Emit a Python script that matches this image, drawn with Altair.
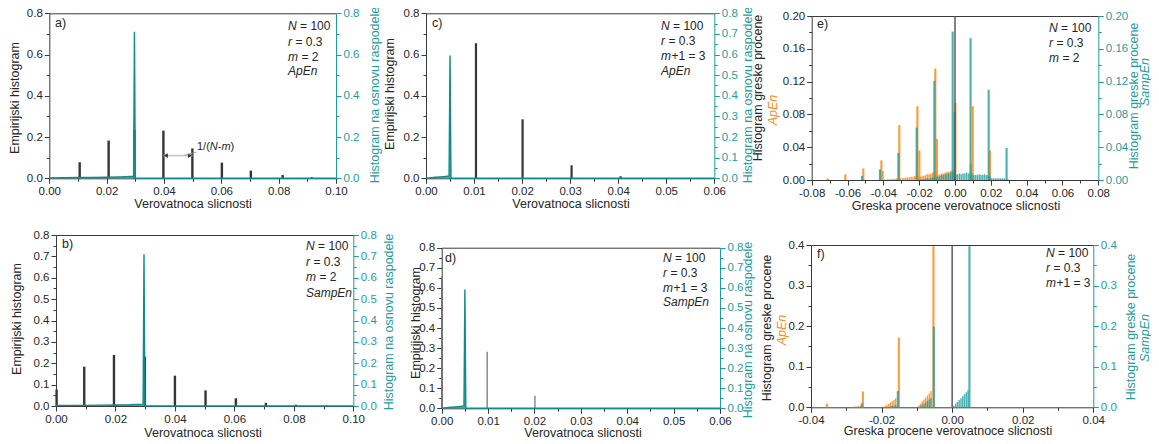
import altair as alt
import pandas as pd

W, H = 1143, 432
FONT = "Liberation Sans"
INK = "#262626"
AXIS = "#3a3a3a"
BAR = "#363636"
BAR_THIN = "#6e6e6e"
TEAL = "#1f9d9d"
TEAL_LINE = "#108b8b"
ORANGE = "#ff8b17"
ZERO = "#5a5a5a"
MINUS = "\u2212"

# ---------------- data ----------------
# a) ApEn, m = 2
a_bar_x = [0.0106, 0.0207, 0.0297, 0.0398, 0.0499, 0.0602, 0.0703, 0.0814, 0.0915]
a_bar_y = [0.078, 0.183, 0.234, 0.231, 0.145, 0.076, 0.037, 0.016, 0.005]
a_teal_x = [0.0, 0.005, 0.010, 0.015, 0.020, 0.025, 0.0294, 0.0297, 0.0300, 0.100]
a_teal_y = [0.002, 0.003, 0.004, 0.004, 0.005, 0.007, 0.010, 0.711, 0.0, 0.0]
# b) SampEn, m = 2
b_bar_x = [0.0002, 0.0095, 0.0195, 0.0299, 0.0400, 0.0503, 0.0605, 0.0706, 0.0807, 0.0910]
b_bar_y = [0.077, 0.184, 0.239, 0.231, 0.142, 0.073, 0.036, 0.015, 0.006, 0.002]
b_teal_x = [0.0, 0.005, 0.010, 0.015, 0.020, 0.025, 0.0293, 0.0296, 0.0299, 0.100]
b_teal_y = [0.002, 0.003, 0.003, 0.004, 0.005, 0.006, 0.009, 0.710, 0.0, 0.0]
# c) ApEn, m+1 = 3
c_bar_x = [0.0104, 0.0201, 0.0303, 0.0405]
c_bar_y = [0.655, 0.286, 0.063, 0.010]
c_teal_x = [0.0, 0.001, 0.002, 0.003, 0.004, 0.0048, 0.0050, 0.0052, 0.060]
c_teal_y = [0.001, 0.003, 0.005, 0.007, 0.009, 0.012, 0.595, 0.0, 0.0]
# d) SampEn, m+1 = 3
d_bar_x = [0.0, 0.0098, 0.0201, 0.0302]
d_bar_y = [0.651, 0.282, 0.062, 0.003]
d_teal_x = [0.0, 0.001, 0.002, 0.003, 0.004, 0.0048, 0.0050, 0.0052, 0.060]
d_teal_y = [0.001, 0.003, 0.005, 0.007, 0.009, 0.012, 0.592, 0.0, 0.0]

# e) estimation error histograms, m = 2
e_apen_spike_x = [-0.0711, -0.0612, -0.0512, -0.0411, -0.0404, -0.0311, -0.0210, -0.0199,
                  -0.0110, -0.0101, 0.0002, 0.0088, 0.0099, 0.0195]
e_apen_spike_y = [0.002, 0.007, 0.014, 0.024, 0.011, 0.067, 0.090, 0.036,
                  0.136, 0.050, 0.094, 0.020, 0.090, 0.036]
e_apen_ramp_x = [-0.0395, -0.0385, -0.0375, -0.0365, -0.0355, -0.0345, -0.0335, -0.0325, -0.0315, -0.0305,
                 -0.0295, -0.0285, -0.0275, -0.0265, -0.0255, -0.0245, -0.0235, -0.0225, -0.0215, -0.0205,
                 -0.0195, -0.0185, -0.0175, -0.0165, -0.0155, -0.0145, -0.0135, -0.0125, -0.0115, -0.0105,
                 -0.0095, -0.0085, -0.0075, -0.0065, -0.0055, -0.0045, -0.0035, -0.0025, -0.0015, -0.0005]
e_apen_ramp_y = [0.0005, 0.0005, 0.001, 0.001, 0.001, 0.0015, 0.0015, 0.002, 0.002, 0.002,
                 0.002, 0.0025, 0.003, 0.003, 0.0035, 0.004, 0.004, 0.005, 0.005, 0.006,
                 0.004, 0.005, 0.005, 0.006, 0.007, 0.007, 0.008, 0.009, 0.010, 0.011,
                 0.006, 0.007, 0.008, 0.008, 0.009, 0.010, 0.010, 0.011, 0.012, 0.012]
e_samp_spike_x = [-0.0519, -0.0419, -0.0316, -0.0214, -0.0115, -0.0013, -0.0002, 0.0087, 0.0188, 0.0288]
e_samp_spike_y = [0.005, 0.013, 0.033, 0.064, 0.121, 0.181, 0.083, 0.173, 0.110, 0.039]
e_samp_ramp_x = [-0.0195, -0.0185, -0.0175, -0.0165, -0.0155, -0.0145, -0.0135, -0.0125, -0.0115, -0.0105,
                 -0.0095, -0.0085, -0.0075, -0.0065, -0.0055, -0.0045, -0.0035, -0.0025, -0.0015, -0.0005,
                 0.0005, 0.0015, 0.0025, 0.0035, 0.0045, 0.0055, 0.0065, 0.0075, 0.0085, 0.0095,
                 0.0105, 0.0115, 0.0125, 0.0135, 0.0145, 0.0155, 0.0165, 0.0175, 0.0185, 0.0195,
                 0.0205, 0.0215, 0.0225, 0.0235, 0.0245, 0.0255, 0.0265, 0.0275, 0.0285, 0.0295]
e_samp_ramp_y = [0.001, 0.001, 0.001, 0.002, 0.002, 0.002, 0.003, 0.003, 0.003, 0.004,
                 0.004, 0.005, 0.006, 0.006, 0.007, 0.008, 0.008, 0.009, 0.010, 0.010,
                 0.007, 0.007, 0.008, 0.007, 0.008, 0.008, 0.009, 0.008, 0.009, 0.008,
                 0.006, 0.006, 0.006, 0.007, 0.006, 0.006, 0.007, 0.006, 0.006, 0.005,
                 0.002, 0.002, 0.002, 0.002, 0.002, 0.002, 0.002, 0.002, 0.001, 0.001]

# f) estimation error histograms, m+1 = 3
f_apen_spike_x = [-0.0355, -0.0253, -0.0151, -0.0053]
f_apen_spike_y = [0.009, 0.039, 0.172, 0.397]
f_apen_ramp_x = [-0.0285, -0.0280, -0.0275, -0.0270, -0.0265, -0.0260,
                 -0.0190, -0.0185, -0.0180, -0.0175, -0.0170, -0.0165, -0.0160,
                 -0.0095, -0.0090, -0.0085, -0.0080, -0.0075, -0.0070, -0.0065, -0.0060]
f_apen_ramp_y = [0.001, 0.001, 0.002, 0.002, 0.003, 0.004,
                 0.003, 0.006, 0.008, 0.012, 0.015, 0.018, 0.022,
                 0.004, 0.009, 0.014, 0.019, 0.024, 0.029, 0.034, 0.040]
f_samp_spike_x = [-0.0256, -0.0154, -0.0052, 0.0049]
f_samp_spike_y = [0.010, 0.040, 0.199, 0.397]
f_samp_ramp_x = [-0.0175, -0.0170, -0.0165, -0.0160,
                 -0.0090, -0.0085, -0.0080, -0.0075, -0.0070, -0.0065, -0.0060,
                 0.0005, 0.0010, 0.0015, 0.0020, 0.0025, 0.0030, 0.0035, 0.0040, 0.0045]
f_samp_ramp_y = [0.002, 0.003, 0.004, 0.006,
                 0.003, 0.006, 0.009, 0.012, 0.016, 0.019, 0.023,
                 0.004, 0.009, 0.013, 0.018, 0.022, 0.027, 0.032, 0.037, 0.042]
zero_x = [0.0]

# annotation arrow in a): 1/(N-m)
a_arrow_x = [0.0398]
a_arrow_x2 = [0.0499]
a_arrow_y = [0.11]
a_head_x = [0.0406, 0.0491]
a_head_y = [0.11, 0.11]
a_head_shape = ["triangle-left", "triangle-right"]
a_lead_x, a_lead_x2 = [0.0472], [0.0514]
a_lead_y, a_lead_y2 = [0.112], [0.127]

# ---------------- ticks ----------------
xt_010 = [0.0, 0.02, 0.04, 0.06, 0.08, 0.10]
xt_010_minor = [0.01, 0.03, 0.05, 0.07, 0.09]
xt_006 = [0.0, 0.01, 0.02, 0.03, 0.04, 0.05, 0.06]
xt_006_minor = [0.005, 0.015, 0.025, 0.035, 0.045, 0.055]
xt_e = [-0.08, -0.06, -0.04, -0.02, 0.0, 0.02, 0.04, 0.06, 0.08]
xt_e_minor = [-0.07, -0.05, -0.03, -0.01, 0.01, 0.03, 0.05, 0.07]
xt_f = [-0.04, -0.02, 0.0, 0.02, 0.04]
xt_f_minor = [-0.03, -0.01, 0.01, 0.03]
yt_02 = [0.0, 0.2, 0.4, 0.6, 0.8]
yt_02_minor = [0.1, 0.3, 0.5, 0.7]
yt_01 = [0.0, 0.1, 0.2, 0.3, 0.4, 0.5, 0.6, 0.7, 0.8]
yt_01_minor = [0.05, 0.15, 0.25, 0.35, 0.45, 0.55, 0.65, 0.75]
yt_e = [0.0, 0.04, 0.08, 0.12, 0.16, 0.20]
yt_e_minor = [0.02, 0.06, 0.10, 0.14, 0.18]
yt_f = [0.0, 0.1, 0.2, 0.3, 0.4]
yt_f_minor = [0.05, 0.15, 0.25, 0.35]

# ---------------- layout (chart pixels) ----------------
GEOM = {
    "a": dict(xr=[41.3, 328.0], yr=[170.3, 5.3]),
    "b": dict(xr=[48.0, 345.3], yr=[398.0, 227.0]),
    "c": dict(xr=[418.0, 706.3], yr=[170.3, 5.3]),
    "d": dict(xr=[433.7, 712.0], yr=[400.3, 239.7]),
    "e": dict(xr=[803.7, 1090.3], yr=[172.0, 8.0]),
    "f": dict(xr=[803.0, 1085.3], yr=[399.3, 237.0]),
}


def sx(p, dom):
    return alt.Scale(domain=dom, range=GEOM[p]["xr"], nice=False, zero=False)


def sy(p, dom):
    return alt.Scale(domain=dom, range=GEOM[p]["yr"], nice=False, zero=False)


def axis(orient, p, values=None, fmt=None, color=AXIS, label_color=INK,
         labels=True, ticks=True, domain=True, tick_size=5):
    g = GEOM[p]
    if orient == "bottom":
        off = g["yr"][0] - H
    elif orient == "top":
        off = -g["yr"][1]
    elif orient == "left":
        off = -g["xr"][0]
    else:
        off = g["xr"][1] - W
    kw = dict(orient=orient, offset=off, title=None, grid=False, labels=labels,
              ticks=ticks, domain=domain, tickSize=tick_size, tickColor=color,
              domainColor=color, tickWidth=1, domainWidth=1)
    if values is not None:
        kw["values"] = values
    if labels:
        kw.update(format=fmt, labelFont=FONT, labelFontSize=11.5, labelColor=label_color,
                  labelPadding=2, labelFlush=False, labelOverlap=False,
                  labelExpr="replace(datum.label, '" + MINUS + "', '-')")
    return alt.Axis(**kw)


def dist_panel(p, xdom, ydom, bx, by, tx, ty, xmaj, xmin, ylmaj, ylmin, yrmaj, yrmin,
               bar_color, bar_w):
    bars = pd.DataFrame({"x": bx, "y": by})
    teal = pd.DataFrame({"x": tx, "y": ty})
    l_bars = alt.Chart(bars).mark_rule(color=bar_color, strokeWidth=bar_w).encode(
        x=alt.X("x:Q", scale=sx(p, xdom), axis=axis("bottom", p, xmaj, ".2f")),
        y=alt.Y("y:Q", scale=sy(p, ydom), axis=axis("left", p, ylmaj, ".1f")),
        y2=alt.datum(0),
    )
    l_teal = alt.Chart(teal).mark_area(
        color=TEAL, opacity=0.85, line={"color": TEAL_LINE, "strokeWidth": 1.4}
    ).encode(
        x=alt.X("x:Q", scale=sx(p, xdom), axis=axis("top", p, labels=False, ticks=False)),
        y=alt.Y("y:Q", scale=sy(p, ydom),
                axis=axis("right", p, yrmaj, ".1f", color=TEAL, label_color=TEAL)),
        y2=alt.datum(0),
    )
    l_min1 = alt.Chart(bars).mark_point(opacity=0).encode(
        x=alt.X("x:Q", scale=sx(p, xdom),
                axis=axis("bottom", p, xmin, labels=False, domain=False, tick_size=3)),
        y=alt.Y("y:Q", scale=sy(p, ydom),
                axis=axis("left", p, ylmin, labels=False, domain=False, tick_size=3)),
    )
    l_min2 = alt.Chart(teal).mark_point(opacity=0).encode(
        x=alt.X("x:Q", scale=sx(p, xdom), axis=None),
        y=alt.Y("y:Q", scale=sy(p, ydom),
                axis=axis("right", p, yrmin, color=TEAL, labels=False, domain=False, tick_size=3)),
    )
    return [l_bars, l_teal, l_min1, l_min2]


def rects(xs, hs, w):
    return pd.DataFrame({"x0": [x - w / 2 for x in xs], "x1": [x + w / 2 for x in xs], "h": hs})


def err_panel(p, xdom, ydom, ap, sp, xmaj, xmin, ymaj, ymin, yfmt):
    l_ap = alt.Chart(ap).mark_bar(color=ORANGE, opacity=0.85).encode(
        x=alt.X("x0:Q", scale=sx(p, xdom), axis=axis("bottom", p, xmaj, ".2f")),
        x2="x1:Q",
        y=alt.Y("h:Q", scale=sy(p, ydom), axis=axis("left", p, ymaj, yfmt)),
        y2=alt.datum(0),
    )
    l_sp = alt.Chart(sp).mark_bar(color=TEAL, opacity=0.8).encode(
        x=alt.X("x0:Q", scale=sx(p, xdom), axis=axis("top", p, labels=False, ticks=False)),
        x2="x1:Q",
        y=alt.Y("h:Q", scale=sy(p, ydom),
                axis=axis("right", p, ymaj, yfmt, color=TEAL, label_color=TEAL)),
        y2=alt.datum(0),
    )
    l_zero = alt.Chart(pd.DataFrame({"x": zero_x})).mark_rule(color=ZERO, strokeWidth=1.5).encode(
        x=alt.X("x:Q", scale=sx(p, xdom), axis=None),
        y=alt.Y(datum=ydom[0], scale=sy(p, ydom), axis=None),
        y2=alt.datum(ydom[1]),
    )
    l_min1 = alt.Chart(ap).mark_point(opacity=0).encode(
        x=alt.X("x0:Q", scale=sx(p, xdom),
                axis=axis("bottom", p, xmin, labels=False, domain=False, tick_size=3)),
        y=alt.Y("h:Q", scale=sy(p, ydom),
                axis=axis("left", p, ymin, labels=False, domain=False, tick_size=3)),
    )
    l_min2 = alt.Chart(sp).mark_point(opacity=0).encode(
        x=alt.X("x0:Q", scale=sx(p, xdom), axis=None),
        y=alt.Y("h:Q", scale=sy(p, ydom),
                axis=axis("right", p, ymin, color=TEAL, labels=False, domain=False, tick_size=3)),
    )
    return [l_ap, l_sp, l_zero, l_min1, l_min2]


layers = []
layers += dist_panel("a", [0, 0.1], [0, 0.8], a_bar_x, a_bar_y, a_teal_x, a_teal_y,
                     xt_010, xt_010_minor, yt_02, yt_02_minor, yt_02, yt_02_minor, BAR, 2.4)
layers += dist_panel("b", [0, 0.1], [0, 0.8], b_bar_x, b_bar_y, b_teal_x, b_teal_y,
                     xt_010, xt_010_minor, yt_01, yt_01_minor, yt_01, yt_01_minor, BAR, 2.4)
layers += dist_panel("c", [0, 0.06], [0, 0.8], c_bar_x, c_bar_y, c_teal_x, c_teal_y,
                     xt_006, xt_006_minor, yt_02, yt_02_minor, yt_01, yt_01_minor, BAR, 2.2)
layers += dist_panel("d", [0, 0.06], [0, 0.8], d_bar_x, d_bar_y, d_teal_x, d_teal_y,
                     xt_006, xt_006_minor, yt_01, yt_01_minor, yt_01, yt_01_minor, BAR_THIN, 1.2)

e_ap = pd.concat([rects(e_apen_ramp_x, e_apen_ramp_y, 0.0008),
                  rects(e_apen_spike_x, e_apen_spike_y, 0.0012)], ignore_index=True)
e_sp = pd.concat([rects(e_samp_ramp_x, e_samp_ramp_y, 0.0008),
                  rects(e_samp_spike_x, e_samp_spike_y, 0.0012)], ignore_index=True)
f_ap = pd.concat([rects(f_apen_ramp_x, f_apen_ramp_y, 0.0004),
                  rects(f_apen_spike_x, f_apen_spike_y, 0.0006)], ignore_index=True)
f_sp = pd.concat([rects(f_samp_ramp_x, f_samp_ramp_y, 0.0004),
                  rects(f_samp_spike_x, f_samp_spike_y, 0.0006)], ignore_index=True)
layers += err_panel("e", [-0.08, 0.08], [0, 0.2], e_ap, e_sp, xt_e, xt_e_minor, yt_e, yt_e_minor, ".2f")
layers += err_panel("f", [-0.04, 0.04], [0, 0.4], f_ap, f_sp, xt_f, xt_f_minor, yt_f, yt_f_minor, ".1f")

# arrow 1/(N-m) in panel a
arrow = pd.DataFrame({"x": a_arrow_x, "x2": a_arrow_x2, "y": a_arrow_y})
layers.append(alt.Chart(arrow).mark_rule(color="#c4c4c4", strokeWidth=1.6).encode(
    x=alt.X("x:Q", scale=sx("a", [0, 0.1]), axis=None), x2="x2:Q",
    y=alt.Y("y:Q", scale=sy("a", [0, 0.8]), axis=None)))
heads = pd.DataFrame({"x": a_head_x, "y": a_head_y, "s": a_head_shape})
layers.append(alt.Chart(heads).mark_point(filled=True, color=BAR, size=24, opacity=1).encode(
    x=alt.X("x:Q", scale=sx("a", [0, 0.1]), axis=None),
    y=alt.Y("y:Q", scale=sy("a", [0, 0.8]), axis=None),
    shape=alt.Shape("s:N", scale=None)))
lead = pd.DataFrame({"x": a_lead_x, "x2": a_lead_x2, "y": a_lead_y, "y2": a_lead_y2})
layers.append(alt.Chart(lead).mark_rule(color="#9a9a9a", strokeWidth=0.8).encode(
    x=alt.X("x:Q", scale=sx("a", [0, 0.1]), axis=None), x2="x2:Q",
    y=alt.Y("y:Q", scale=sy("a", [0, 0.8]), axis=None), y2="y2:Q"))

# ---------------- texts ----------------
panel_labels = [("a)", 47, 15), ("b)", 54, 236), ("c)", 424, 15),
                ("d)", 437, 250), ("e)", 809, 16), ("f)", 809, 246)]
blocks = [
    (280, [18, 33.5, 48.5, 63], [("N", "= 100"), ("r", "= 0.3"), ("m", "= 2"), ("ApEn", "")]),
    (298, [238, 254, 269, 285], [("N", "= 100"), ("r", "= 0.3"), ("m", "= 2"), ("SampEn", "")]),
    (653, [18, 33, 48, 63], [("N", "= 100"), ("r", "= 0.3"), ("m", "+1 = 3"), ("ApEn", "")]),
    (655, [250, 265, 279.5, 294], [("N", "= 100"), ("r", "= 0.3"), ("m", "+1 = 3"), ("SampEn", "")]),
    (1041, [20, 35, 50], [("N", "= 100"), ("r", "= 0.3"), ("m", "= 2")]),
    (1038, [245, 260, 275], [("N", "= 100"), ("r", "= 0.3"), ("m", "+1 = 3")]),
]
ital_w = {"N": 8.7, "r": 4.0, "m": 10.0, "ApEn": 0, "SampEn": 0}
SPACE_W = 3.4
frac_reg = [("1/(", 189.0), ("-", 209.8), (")", 222.6)]
frac_ital = [("N", 201.8), ("m", 213.4)]
frac_y = 139

reg_rows, ital_rows = [], []
for t, x, y in panel_labels:
    reg_rows.append({"x": x, "y": y, "t": t, "s": 12.5})
for x0, ys, lines in blocks:
    for y, (it, rg) in zip(ys, lines):
        ital_rows.append({"x": x0, "y": y, "t": it, "s": 12})
        if rg:
            gap = SPACE_W if rg.startswith("=") else 0.4
            reg_rows.append({"x": x0 + ital_w[it] + gap, "y": y, "t": rg, "s": 12})
for t, x in frac_reg:
    reg_rows.append({"x": x, "y": frac_y, "t": t, "s": 11})
for t, x in frac_ital:
    ital_rows.append({"x": x, "y": frac_y, "t": t, "s": 11})


def text_layer(rows, **mk):
    df = pd.DataFrame(rows)
    enc = dict(x=alt.X("x:Q", scale=None, axis=None), y=alt.Y("y:Q", scale=None, axis=None),
               text="t:N")
    if "s" in df.columns:
        enc["size"] = alt.Size("s:Q", scale=None, legend=None)
    if "c" in df.columns:
        enc["color"] = alt.Color("c:N", scale=None, legend=None)
    return alt.Chart(df).mark_text(font=FONT, baseline="middle", **mk).encode(**enc)


layers.append(text_layer(reg_rows, align="left", color=INK))
layers.append(text_layer(ital_rows, align="left", color=INK, fontStyle="italic"))

x_titles = [("Verovatnoca slicnosti", 185, 196), ("Verovatnoca slicnosti", 195, 425),
            ("Verovatnoca slicnosti", 563, 196), ("Verovatnoca slicnosti", 575, 425),
            ("Greska procene verovatnoce slicnosti", 948, 198),
            ("Greska procene verovatnoce slicnosti", 940, 423)]
layers.append(text_layer([{"x": x, "y": y, "t": t} for t, x, y in x_titles],
                         align="center", color=INK, fontSize=12.5))

y_titles = [
    ("Empirijski histogram", 7, 90, INK), ("Empirijski histogram", 9, 311, INK),
    ("Empirijski histogram", 382, 86, INK), ("Empirijski histogram", 408, 315, INK),
    ("Histogram na osnovu raspodele", 367, 87, TEAL), ("Histogram na osnovu raspodele", 381, 314, TEAL),
    ("Histogram na osnovu raspodele", 740, 87, TEAL), ("Histogram na osnovu raspodele", 740, 322, TEAL),
    ("Histogram greske procene", 750, 80, INK), ("Histogram greske procene", 759, 320, INK),
    ("Histogram greske procene", 1126, 88, TEAL), ("Histogram greske procene", 1123, 319, TEAL),
]
layers.append(text_layer([{"x": x, "y": y, "t": t, "c": c} for t, x, y, c in y_titles],
                         align="center", angle=270, fontSize=12.5))
y_titles_it = [("ApEn", 765, 102, ORANGE), ("ApEn", 774, 322, ORANGE),
               ("SampEn", 1137, 74, TEAL), ("SampEn", 1137, 330, TEAL)]
layers.append(text_layer([{"x": x, "y": y, "t": t, "c": c} for t, x, y, c in y_titles_it],
                         align="center", angle=270, fontSize=12.5, fontStyle="italic"))

chart = (
    alt.layer(*layers)
    .resolve_scale(x="independent", y="independent")
    .resolve_axis(x="independent", y="independent")
    .properties(width=W, height=H, padding=0, autosize=alt.AutoSizeParams(type="none"))
    .configure_view(strokeWidth=0)
)
chart.save("out.html", embed_options={"renderer": "svg", "actions": False})
